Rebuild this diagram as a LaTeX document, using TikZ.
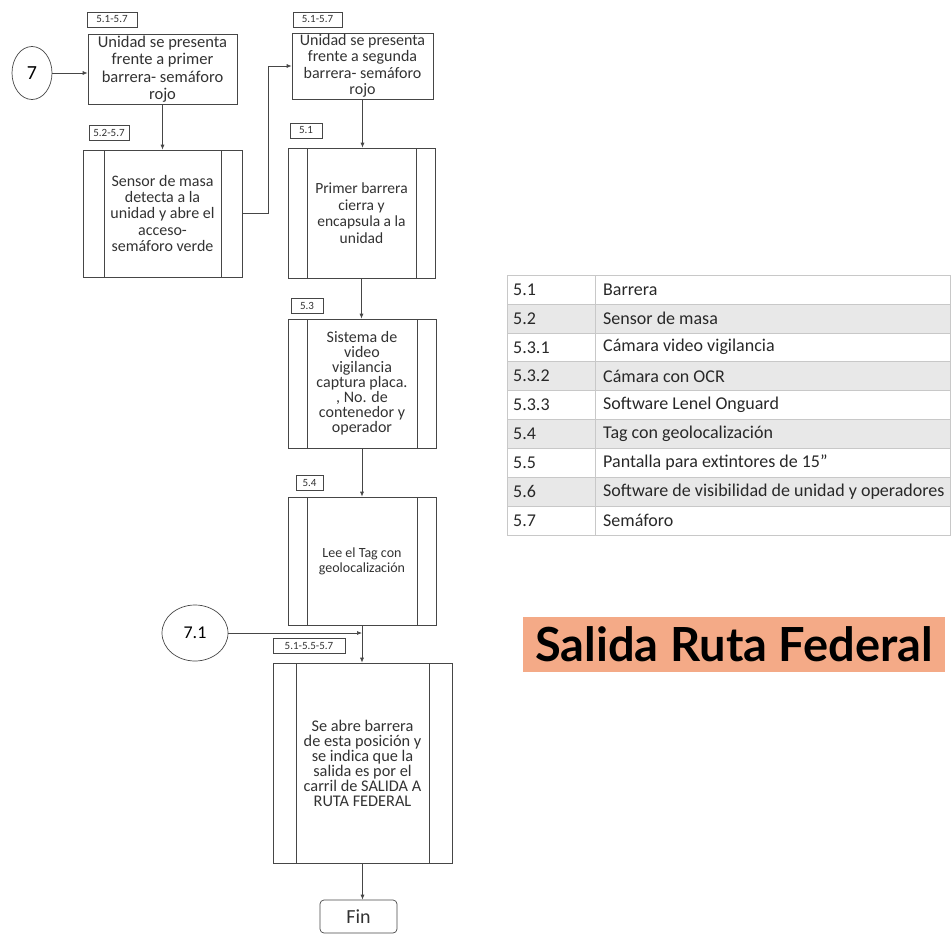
\documentclass[tikz,border=0pt]{standalone}
\usepackage{fontspec}
\setmainfont{Carlito}
\newfontfamily\titlefont{Lato}
\usetikzlibrary{arrows.meta,shapes.geometric}

\tikzset{
  caja/.style={draw=linea, line width=0.7pt, align=center, inner sep=0pt, text=textocaja},
  proceso/.style={caja, path picture={
      \draw[linea, line width=0.7pt] ([xshift=#1]path picture bounding box.north west) -- ([xshift=#1]path picture bounding box.south west);
      \draw[linea, line width=0.7pt] ([xshift=-#1]path picture bounding box.north east) -- ([xshift=-#1]path picture bounding box.south east);}},
  proceso/.default=20pt,
  etiqueta/.style={draw=linea, line width=0.6pt, minimum height=15pt, inner sep=1pt, text=textocaja, font=\fontsize{11}{12}\selectfont},
  conector/.style={draw=linea, line width=0.7pt},
  flecha/.style={conector, -{Latex[length=5pt,width=4pt]}},
  celda/.style={anchor=west, inner sep=0pt, text=textotabla, font=\fontsize{18}{20}\selectfont},
}

\begin{document}
\begin{tikzpicture}[x=1pt, y=-1pt]
\definecolor{linea}{RGB}{70,70,70}
\definecolor{textocaja}{RGB}{50,50,50}
\definecolor{textotabla}{RGB}{40,40,40}
\definecolor{borde_tabla}{RGB}{200,200,200}
\definecolor{fila_gris}{RGB}{232,232,232}
\definecolor{titulo_color}{RGB}{244,170,135}

\useasboundingbox (0,0) rectangle (951,937);

% columna izquierda
\node[ellipse, draw=linea, line width=0.7pt, minimum width=40, minimum height=53, inner sep=0pt, font=\fontsize{20}{22}\selectfont] (c7) at (32,73) {7};
\node[caja, minimum width=149, minimum height=70, font=\fontsize{16.5}{17.5}\selectfont] (b1) at (162.5,69) {Unidad se presenta\\frente a primer\\barrera- semáforo\\rojo};
\node[etiqueta, minimum width=50] (l1) at (112,19.5) {5.1-5.7};

\node[proceso=21pt, minimum width=159, minimum height=127, font=\fontsize{16}{16.5}\selectfont] (sensor) at (162.5,213.5) {Sensor de masa\\detecta a la\\unidad y abre el\\acceso-\\semáforo verde};
\node[etiqueta, minimum width=40] (l2) at (109,133) {5.2-5.7};

% columna central
\node[caja, minimum width=141, minimum height=66, font=\fontsize{16}{16.5}\selectfont] (b2) at (362.5,66) {Unidad se presenta\\frente a segunda\\barrera- semáforo\\rojo};
\node[etiqueta, minimum width=49] (l3) at (317.5,19.5) {5.1-5.7};

\node[proceso=19pt, minimum width=147, minimum height=130, font=\fontsize{15.5}{16.5}\selectfont] (b3) at (361.5,213) {Primer barrera\\cierra y\\encapsula a la\\unidad};
\node[etiqueta, minimum width=32] (l4) at (306,130.5) {5.1};

\node[proceso=19pt, minimum width=148, minimum height=129, font=\fontsize{16}{15}\selectfont] (b4) at (362,383.5) {Sistema de\\video\\vigilancia\\captura placa.\\, No. de\\contenedor y\\operador};
\node[etiqueta, minimum width=32] (l5) at (307,306) {5.3};

\node[proceso=19pt, minimum width=148, minimum height=128, font=\fontsize{14}{15}\selectfont] (b5) at (362,561) {Lee el Tag con\\geolocalización};
\node[etiqueta, minimum width=27] (l6) at (309.5,483) {5.4};

\node[ellipse, draw=linea, line width=0.7pt, minimum width=66, minimum height=56, inner sep=0pt, font=\fontsize{18}{20}\selectfont] (c71) at (195,633) {7.1};
\node[proceso=23pt, minimum width=179, minimum height=200, font=\fontsize{16.3}{15}\selectfont] (b6) at (362.5,763) {Se abre barrera\\de esta posición y\\se indica que la\\salida es por el\\carril de SALIDA A\\RUTA FEDERAL};
\node[etiqueta, minimum width=72] (l7) at (309,645.5) {5.1-5.5-5.7};

\node[caja, rounded corners=4pt, minimum width=77, minimum height=33, font=\fontsize{20}{22}\selectfont] (fin) at (358.5,916.5) {Fin};

% conectores
\draw[flecha] (c7.east) -- (c7.east -| b1.west);
\draw[flecha] (b1.south) -- (sensor.north);
\draw[flecha] (sensor.east) -- ++(26,0) |- (b2.west);
\draw[flecha] (b2.south) -- (b2.south |- b3.north);
\draw[flecha] (b3.south) -- (b3.south |- b4.north);
\draw[flecha] (b4.south) -- (b4.south |- b5.north);
\draw[flecha] (b5.south) -- (b5.south |- b6.north);
\draw[flecha] (c71.east) -- (c71.east -| b5.south);
\draw[flecha] (b6.south) -- (b6.south |- fin.north);

% tabla de componentes
\foreach \i in {2,4,6,8}
  \fill[fila_gris] (507,{275+(\i-1)*28.9}) rectangle (950,{275+\i*28.9});
\foreach \i in {1,...,8}
  \draw[borde_tabla, line width=0.6pt] (507,{275+\i*28.9}) -- (950,{275+\i*28.9});
\draw[borde_tabla, line width=0.6pt] (507,275) rectangle (950,535);
\draw[borde_tabla, line width=0.6pt] (595,275) -- (595,535);
\foreach \cod/\desc [count=\i] in {5.1/Barrera, 5.2/Sensor de masa, 5.3.1/Cámara video vigilancia, 5.3.2/Cámara con OCR, 5.3.3/Software Lenel Onguard, 5.4/Tag con geolocalización, 5.5/Pantalla para extintores de 15”, 5.6/Software de visibilidad de unidad y operadores, 5.7/Semáforo}{
  \node[celda] (tcod\i) at (513,{275+(\i-0.5)*28.9}) {\cod};
  \node[celda] (tdesc\i) at (603,{275+(\i-0.5)*28.9}) {\desc};
}

% titulo
\node[fill=titulo_color, minimum width=422, minimum height=55, inner sep=0pt, font=\titlefont\bfseries\fontsize{47}{49}\selectfont] (titulo) at (734,644.5) {Salida Ruta Federal};

\end{tikzpicture}
\end{document}
